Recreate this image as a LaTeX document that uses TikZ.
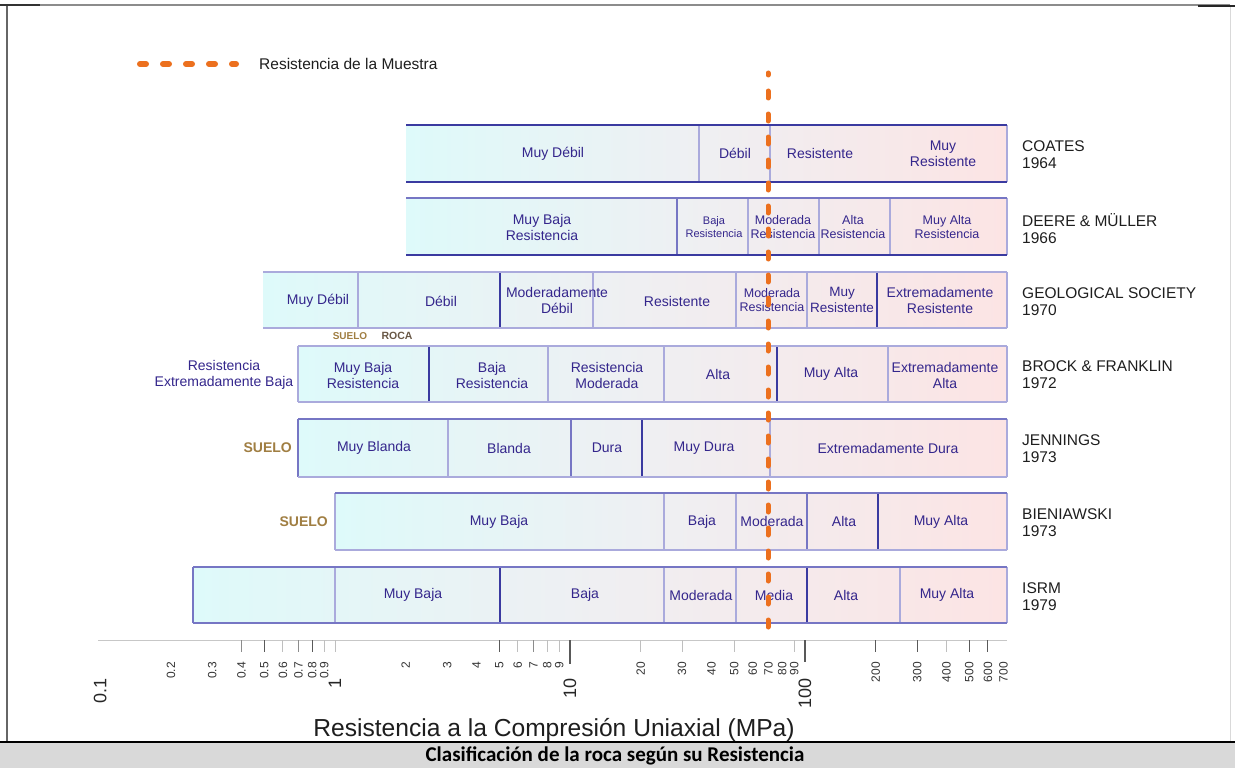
\documentclass[tikz,border=0pt]{standalone}
\usepackage{fontspec}
\setmainfont{Liberation Sans}
\newfontfamily\capfont{Carlito}
\definecolor{txt}{RGB}{52,38,140}
\definecolor{dk}{RGB}{58,58,160}
\definecolor{md}{RGB}{118,118,196}
\definecolor{lt}{RGB}{170,170,220}
\definecolor{cyn}{RGB}{222,250,250}
\definecolor{midc}{RGB}{239,239,242}
\definecolor{pnk}{RGB}{252,228,228}
\definecolor{org}{RGB}{236,112,30}
\definecolor{suelo}{RGB}{160,126,66}
\definecolor{roca}{RGB}{105,88,70}
\definecolor{rlc}{RGB}{30,30,30}
\definecolor{capgray}{RGB}{217,217,217}
\tikzset{
  barfill/.style={left color=cyn, right color=pnk, middle color=midc},
  dkl/.style={draw=dk, line width=1.8pt},
  mdl/.style={draw=md, line width=1.4pt},
  ltl/.style={draw=lt, line width=1.1pt},
  bt/.style={text=txt, font=\fontsize{14}{16}\selectfont, align=center, inner sep=0pt},
  btm/.style={text=txt, font=\fontsize{12.5}{13.5}\selectfont, align=center, inner sep=0pt},
  bts/.style={text=txt, font=\fontsize{11}{13}\selectfont, align=center, inner sep=0pt},
  rl/.style={text=rlc, font=\fontsize{15.5}{17}\selectfont, align=left, inner sep=0pt, anchor=west},
  sue/.style={text=suelo, font=\bfseries\fontsize{14}{16}\selectfont, inner sep=0pt, anchor=east},
  tkd/.style={draw=black!65, line width=1.1pt},
  tkm/.style={draw=black!45, line width=1pt},
  tkl/.style={draw=black!25, line width=1pt},
  tlab/.style={text=black!80, font=\fontsize{12}{12}\selectfont, inner sep=0pt, rotate=90, anchor=east},
  tbig/.style={text=black!85, font=\fontsize{18}{18}\selectfont, inner sep=0pt, rotate=90, anchor=east},
  sample/.style={draw=org, line cap=round}
}
\begin{document}
\begin{tikzpicture}[x=1pt,y=-1pt]
\useasboundingbox (0,0) rectangle (1235,768);
\fill[white] (0,0) rectangle (1235,768);
% frame
\draw[black!45, line width=1.2pt] (7,5) -- (1230,5);
\draw[black!60, line width=1.4pt] (7,5) -- (7,742);
\draw[black!15, line width=1pt] (1230,5) -- (1230,742);
\draw[black!80, line width=2pt] (0,5) -- (40,5);
\draw[black!85, line width=2pt] (1198,6) -- (1235,6);

% legend
\coordinate (lga) at (140,64);
\coordinate (lgb) at (236,64);
\draw[sample, line width=6pt, dash pattern=on 6pt off 17pt] (lga) -- (lgb);
\node[text=rlc, font=\fontsize{15.5}{17}\selectfont, anchor=west, inner sep=0pt] (leg) at (259,64) {Resistencia de la Muestra};

% ---------- COATES 1964
\path[barfill] (406,125) rectangle (1007,182);
\draw[ltl] (1007,125) -- (1007,182);
\draw[ltl] (699,125) -- (699,182);
\draw[ltl] (770,125) -- (770,182);
\draw[dkl] (406,125) -- (1007,125);
\draw[dkl] (406,182) -- (1007,182);
\node[bt] (c1) at (553,153.5) {Muy Débil};
\node[bt] (c2) at (735,153.5) {Débil};
\node[bt] (c3) at (820,153.5) {Resistente};
\node[bt] (c4) at (943,153.5) {Muy\\Resistente};
\node[rl] (cl) at (1022,155) {COATES\\1964};

% ---------- DEERE & MULLER 1966
\path[barfill] (406,198) rectangle (1007,255);
\draw[ltl] (1007,198) -- (1007,255);
\draw[mdl] (677,198) -- (677,255);
\draw[ltl] (748,198) -- (748,255);
\draw[ltl] (819,198) -- (819,255);
\draw[ltl] (890,198) -- (890,255);
\draw[mdl] (406,198) -- (1007,198);
\draw[dkl] (406,255) -- (1007,255);
\node[bt] (d1) at (542,227) {Muy Baja\\Resistencia};
\node[bts] (d2) at (714,227) {Baja\\Resistencia};
\node[btm] (d3) at (783,227) {Moderada\\Resistencia};
\node[btm] (d4) at (853,227) {Alta\\Resistencia};
\node[btm] (d5) at (947,227) {Muy Alta\\Resistencia};
\node[rl] (dl) at (1022,229) {DEERE \& MÜLLER\\1966};

% ---------- GEOLOGICAL SOCIETY 1970
\path[barfill] (263,272) rectangle (1007,328);
\draw[ltl] (1007,272) -- (1007,328);
\draw[ltl] (358,272) -- (358,328);
\draw[dkl] (500,272) -- (500,328);
\draw[ltl] (593,272) -- (593,328);
\draw[ltl] (736,272) -- (736,328);
\draw[ltl] (807,272) -- (807,328);
\draw[dkl] (877,272) -- (877,328);
\draw[ltl] (263,272) -- (1007,272);
\draw[ltl] (263,328) -- (1007,328);
\node[bt] (g1) at (318,301) {Muy Débil};
\node[bt] (g2) at (441,301) {Débil};
\node[bt] (g3) at (557,300) {Moderadamente\\Débil};
\node[bt] (g4) at (677,301) {Resistente};
\node[btm] (g5) at (772,300) {Moderada\\Resistencia};
\node[text=txt, font=\fontsize{13.5}{16}\selectfont, align=center, inner sep=0pt] (g6) at (842,300) {Muy\\Resistente};
\node[bt] (g7) at (940,300) {Extremadamente\\Resistente};
\node[rl] (gl) at (1022,301.5) {GEOLOGICAL SOCIETY\\1970};

% SUELO / ROCA
\node[text=suelo, font=\bfseries\fontsize{10}{12}\selectfont, inner sep=0pt] (s0) at (350,336) {SUELO};
\node[text=roca, font=\bfseries\fontsize{10.5}{12}\selectfont, inner sep=0pt] (r0) at (397,336) {ROCA};

% ---------- BROCK & FRANKLIN 1972
\path[barfill] (298,346) rectangle (1007,402);
\draw[ltl] (1007,346) -- (1007,402);
\draw[ltl] (298,346) -- (298,402);
\draw[dkl] (429,346) -- (429,402);
\draw[ltl] (548,346) -- (548,402);
\draw[ltl] (664,346) -- (664,402);
\draw[dkl] (777,346) -- (777,402);
\draw[ltl] (888,346) -- (888,402);
\draw[ltl] (298,346) -- (1007,346);
\draw[ltl] (298,402) -- (1007,402);
\node[bt] (b0) at (224,375) {Resistencia\\Extremadamente Baja};
\node[bt] (b1) at (363,375) {Muy Baja\\Resistencia};
\node[bt] (b2) at (492,375) {Baja\\Resistencia};
\node[bt] (b3) at (607,375) {Resistencia\\Moderada};
\node[bt] (b4) at (718,374) {Alta};
\node[bt] (b5) at (831,374) {Muy Alta};
\node[bt] (b6) at (945,375) {Extremadamente\\Alta};
\node[rl] (bl) at (1022,375) {BROCK \& FRANKLIN\\1972};

% ---------- JENNINGS 1973
\path[barfill] (298,419) rectangle (1007,477);
\draw[ltl] (1007,419) -- (1007,477);
\draw[mdl] (298,419) -- (298,477);
\draw[ltl] (448,419) -- (448,477);
\draw[mdl] (571,419) -- (571,477);
\draw[dkl] (642,419) -- (642,477);
\draw[ltl] (770,419) -- (770,477);
\draw[mdl] (298,419) -- (1007,419);
\draw[ltl] (298,477) -- (1007,477);
\node[sue] (j0) at (292,448) {SUELO};
\node[bt] (j1) at (374,448) {Muy Blanda};
\node[bt] (j2) at (509,448) {Blanda};
\node[bt] (j3) at (607,448) {Dura};
\node[bt] (j4) at (704,448) {Muy Dura};
\node[bt] (j5) at (888,448) {Extremadamente Dura};
\node[rl] (jl) at (1022,449) {JENNINGS\\1973};

% ---------- BIENIAWSKI 1973
\path[barfill] (335,493) rectangle (1007,550);
\draw[ltl] (1007,493) -- (1007,550);
\draw[ltl] (335,493) -- (335,550);
\draw[ltl] (664,493) -- (664,550);
\draw[ltl] (736,493) -- (736,550);
\draw[mdl] (807,493) -- (807,550);
\draw[dkl] (878,493) -- (878,550);
\draw[mdl] (335,493) -- (1007,493);
\draw[ltl] (335,550) -- (1007,550);
\node[sue] (e0) at (328,521.5) {SUELO};
\node[bt] (e1) at (499,521.5) {Muy Baja};
\node[bt] (e2) at (702,521.5) {Baja};
\node[bt] (e3) at (772,521.5) {Moderada};
\node[bt] (e4) at (844,521.5) {Alta};
\node[bt] (e5) at (941,521.5) {Muy Alta};
\node[rl] (el) at (1022,523) {BIENIAWSKI\\1973};

% ---------- ISRM 1979
\path[barfill] (193,567) rectangle (1007,623);
\draw[ltl] (1007,567) -- (1007,623);
\draw[mdl] (193,567) -- (193,623);
\draw[ltl] (335,567) -- (335,623);
\draw[dkl] (500,567) -- (500,623);
\draw[ltl] (664,567) -- (664,623);
\draw[ltl] (736,567) -- (736,623);
\draw[dkl] (807,567) -- (807,623);
\draw[ltl] (900,567) -- (900,623);
\draw[mdl] (193,567) -- (1007,567);
\draw[mdl] (193,623) -- (1007,623);
\node[bt] (i1) at (413,595) {Muy Baja};
\node[bt] (i2) at (585,595) {Baja};
\node[bt] (i3) at (701,595) {Moderada};
\node[bt] (i4) at (774,595) {Media};
\node[bt] (i5) at (846,595) {Alta};
\node[bt] (i6) at (947,595) {Muy Alta};
\node[rl] (il) at (1022,597) {ISRM\\1979};

% ---------- axis
\draw[black!22, line width=1pt] (98,640) -- (1007,640);
\foreach \v/\tk/\len in {0.4/tkm/12, 0.5/tkd/12, 0.6/tkl/12, 0.7/tkm/12, 0.8/tkd/12, 0.9/tkl/12, 1/tkl/12, 5/tkd/12, 6/tkl/12, 7/tkm/12, 8/tkl/12, 9/tkl/12, 10/tkd/24, 20/tkl/12, 30/tkl/12, 50/tkl/12, 90/tkl/12, 100/tkd/22, 200/tkd/12, 300/tkd/12, 400/tkl/12, 500/tkd/12, 600/tkd/12}
  \draw[\tk] ({335+235*log10(\v)},640) -- ++(0,\len);
\foreach \v [count=\i] in {0.2,0.3,0.4,0.5,0.6,0.7,0.8,0.9,2,3,4,5,6,7,8,9,20,30,40,50,60,70,80,90,200,300,400,500,600,700}
  \node[tlab] (lab\i) at ({335+235*log10(\v)},662) {\v};
\foreach \v [count=\i] in {0.1,1,10,100}
  \node[tbig] (big\i) at ({335+235*log10(\v)},678) {\v};
\node[text=rlc, font=\fontsize{24.6}{25}\selectfont, inner sep=0pt, anchor=base] (xt) at (554,736) {Resistencia a la Compresión Uniaxial (MPa)};

% ---------- caption band
\fill[capgray] (0,742) rectangle (1235,768);
\draw[black, line width=1.5pt] (0,742) -- (1235,742);
\node[text=black, font=\capfont\bfseries\fontsize{21}{21}\selectfont, inner sep=0pt, anchor=base] (cap) at (615,761) {Clasificación de la roca según su Resistencia};

% ---------- sample strength line
\coordinate (st) at (768,73);
\coordinate (sb) at (768,642);
\draw[sample, line width=5pt, dash pattern=on 7pt off 16pt, dash phase=5pt] (st) -- (sb);
\end{tikzpicture}
\end{document}
